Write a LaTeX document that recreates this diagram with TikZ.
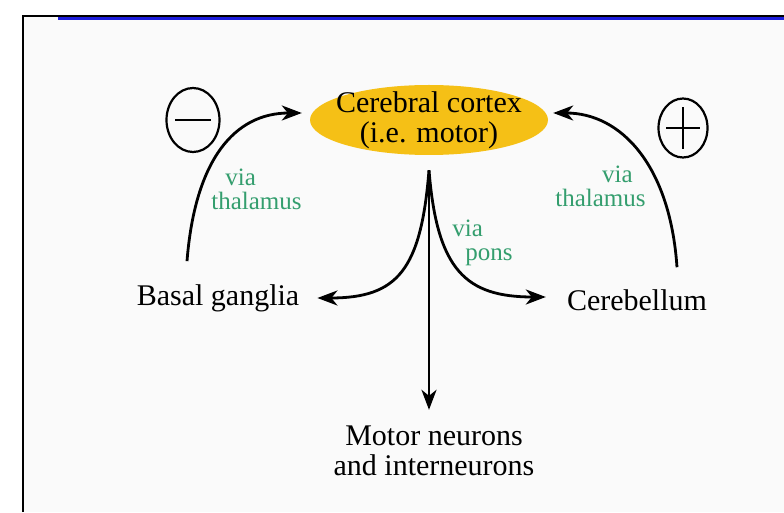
\documentclass[tikz,border=0pt]{standalone}
\usepackage{fontspec}
\setmainfont{Liberation Serif}
\usetikzlibrary{arrows.meta,positioning,shapes.geometric}
\definecolor{cortexgold}{RGB}{245,192,22}
\definecolor{viagreen}{RGB}{52,158,110}
\definecolor{framebg}{RGB}{250,250,250}
\definecolor{frameblue}{RGB}{30,30,220}

\begin{document}
\begin{tikzpicture}[x=1pt,y=1pt,>={Stealth[length=20pt,width=15pt,inset=6pt]},
lbl/.style={font=\fontsize{30}{30}\selectfont,align=center,inner sep=2pt},
via/.style={font=\fontsize{25}{24}\selectfont,text=viagreen,inner sep=0pt},
sign/.style={draw,ellipse,line width=2.2pt,inner sep=0pt},
link/.style={line width=2.8pt}]
\useasboundingbox (0,0) rectangle (784,512);
% frame of the slide
\fill[framebg] (23,0) rectangle (784,496);
\draw[frameblue,line width=2.5pt] (58,493.5) -- (784,493.5);
\draw[line width=2pt] (23,0) -- (23,496) -- (784,496);
% nodes
\node[lbl,ellipse,fill=cortexgold,inner xsep=-15pt,inner ysep=-10pt,minimum width=238pt,minimum height=70pt] (cortex) at (429,392) {Cerebral cortex\\(i.e. motor)};
\node[lbl] (basal) at (218,214) {Basal ganglia};
\node[lbl] (cereb) at (637,212) {Cerebellum};
\node[lbl] (motor) at (434,61) {Motor neurons\\and interneurons};
\node[sign,minimum width=53pt,minimum height=64pt] (minus) at (193,392) {};
\node[sign,minimum width=49pt,minimum height=59pt] (plus) at (683,384) {};
\draw[line width=2.6pt] ([xshift=-18pt]minus.center) -- ([xshift=18pt]minus.center);
\draw[line width=2.2pt] ([xshift=-17pt]plus.center) -- ([xshift=17pt]plus.center);
\draw[line width=2.2pt] ([yshift=-21pt]plus.center) -- ([yshift=21pt]plus.center);
\node[via,align=left] (lthal) at (256.5,323) {\hspace*{14pt}via\\thalamus};
\node[via,align=right] (rthal) at (600.5,326) {via\hspace*{13pt}\\thalamus};
\node[via,align=left] (pons) at (482.5,269) {via\\\hspace*{13pt}pons};
% connectors
\coordinate (apex) at ([yshift=-15pt]cortex.south);
\draw[->,link] (apex) -- ([yshift=14pt]apex |- motor.north);
\draw[->,link] (apex) .. controls +(-8,-100) and +(80,0) .. ([xshift=16pt]basal.east);
\draw[->,link] (apex) .. controls +(8,-100) and +(-80,0) .. ([shift={(-19,3)}]cereb.west);
\draw[->,link] ([shift={(-31,21)}]basal.north) .. controls +(8,102) and +(-67,0) .. ([shift={(-8,7)}]cortex.west);
\draw[->,link] ([shift={(40,20)}]cereb.north) .. controls +(-7,103) and +(67,0) .. ([shift={(5,7)}]cortex.east);
\end{tikzpicture}
\end{document}
